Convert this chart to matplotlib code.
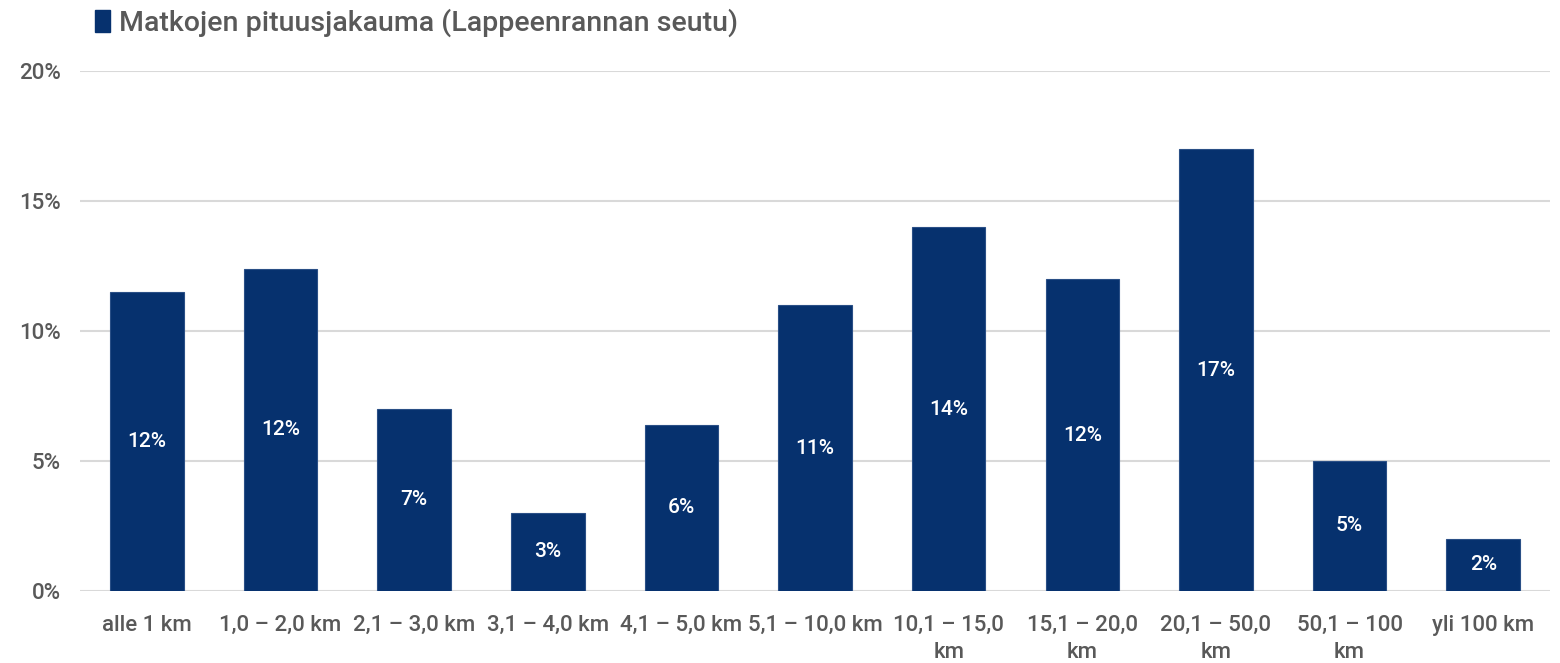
import matplotlib
matplotlib.use("Agg")
import matplotlib.pyplot as plt
from matplotlib.patches import Patch

categories = ["alle 1 km", "1,0 – 2,0 km", "2,1 – 3,0 km", "3,1 – 4,0 km", "4,1 – 5,0 km",
              "5,1 – 10,0 km", "10,1 – 15,0\nkm", "15,1 – 20,0\nkm", "20,1 – 50,0\nkm",
              "50,1 – 100\nkm", "yli 100 km"]
values = [11.5, 12.4, 7.0, 3.0, 6.4, 11.0, 14.0, 12.0, 17.0, 5.0, 2.0]
yticks = [0, 5, 10, 15, 20]
series_name = "Matkojen pituusjakauma (Lappeenrannan seutu)"

BAR = "#06316E"
TXT = "#595959"
GRID = "#D9D9D9"

plt.rcParams['font.family'] = ['Roboto', 'DejaVu Sans']

fig = plt.figure(figsize=(15.6, 6.63), dpi=100)
ax = fig.add_axes([0.0513, 0.1086, 0.9423, 0.7843])

x = list(range(len(categories)))
bars = ax.bar(x, values, width=0.55, color=BAR, edgecolor="#2A4F86", linewidth=0.8, zorder=3)
for xi, v in zip(x, values):
    ax.text(xi, v / 2, f"{round(v):.0f}%", ha="center", va="center", color="white",
            fontsize=15, fontweight="medium", zorder=4)

ax.set_xlim(-0.5, len(categories) - 0.5)
ax.set_ylim(0, 20)
ax.set_yticks(yticks)
ax.set_yticklabels([f"{t}%" for t in yticks], fontweight="medium")
ax.set_xticks(x)
ax.set_xticklabels(categories, linespacing=1.4, va="top", fontweight="medium")
ax.tick_params(axis="both", length=0, colors=TXT, labelsize=16)
ax.tick_params(axis="y", pad=14)
ax.tick_params(axis="x", pad=17)
ax.grid(axis="y", color=GRID, linewidth=1.5, zorder=0)
for s in ax.spines.values():
    s.set_visible(False)
ax.axhline(0, color=GRID, linewidth=2, zorder=2)

leg = fig.legend(handles=[Patch(facecolor=BAR, edgecolor=BAR)], labels=[series_name],
           loc="center left", bbox_to_anchor=(0.0515, 0.965), frameon=False,
           prop={"size": 20.5, "weight": "medium"}, labelcolor=TXT, handlelength=0.55, handleheight=0.8,
           handletextpad=0.3, borderpad=0)

fig.savefig("out.png", dpi=100)
